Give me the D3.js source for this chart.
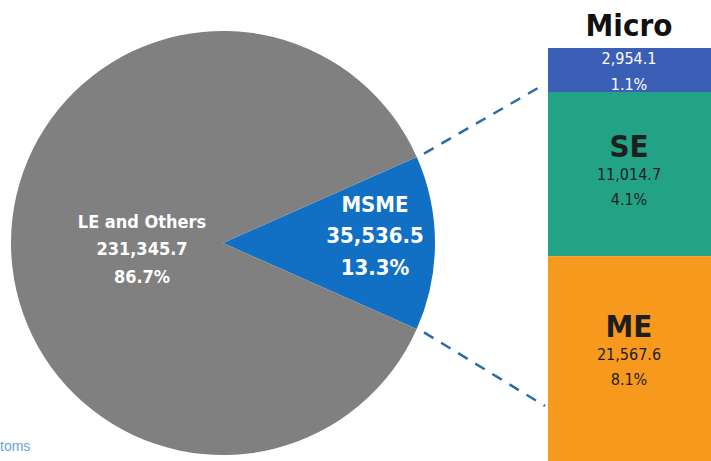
<!DOCTYPE html>
<html>
<head>
<meta charset="utf-8">
<script src="https://cdn.jsdelivr.net/npm/d3@7"></script>
<style>
  html, body { margin: 0; padding: 0; background: #fff; }
  svg { display: block; }
</style>
</head>
<body>
<svg id="chart" width="711" height="461"></svg>
<script>
// Enterprise segments (value and share of total)
const pieLabels = ["MSME", "LE and Others"];
const pieValues = [35536.5, 231345.7];
const pieShares = [13.3, 86.7];

// Breakdown of MSME into size classes
const barLabels = ["Micro", "SE", "ME"];
const barValues = [2954.1, 11014.7, 21567.6];
const barShares = [1.1, 4.1, 8.1];

const pieColors = ["#1170c4", "#808080"];
const barColors = ["#3b5fb6", "#22a386", "#f7991d"];
const barText = ["#ffffff", "#1e1e1e", "#1e1e1e"];

const svg = d3.select("#chart");
const fmt = d3.format(",.1f");

// ---- pie ----
const cx = 223, cy = 243, R = 212;
const total = d3.sum(pieValues);
const msmeAngle = 2 * Math.PI * pieValues[0] / total;
const start = Math.PI / 2 - msmeAngle / 2;

const pie = d3.pie().sort(null).startAngle(start).endAngle(start + 2 * Math.PI);
const arcs = pie(pieValues);
const arc = d3.arc().innerRadius(0).outerRadius(R);

const gPie = svg.append("g").attr("transform", `translate(${cx},${cy})`);
gPie.selectAll("path").data(arcs).join("path")
  .attr("d", arc)
  .attr("fill", (d, i) => pieColors[i]);

// label placement for each slice: radius, vertical shift, font size, line gap
const labelCfg = [
  { r: 152, dy: 0, size: 22, gap: 31.5 },
  { r: 81, dy: 12, size: 18, gap: 27.5 }
];
arcs.forEach((d, i) => {
  const c = labelCfg[i];
  const mid = (d.startAngle + d.endAngle) / 2;
  const lx = Math.sin(mid) * c.r;
  const ly = -Math.cos(mid) * c.r + c.dy;
  const t = gPie.append("text")
    .attr("text-anchor", "middle")
    .attr("fill", "#ffffff")
    .attr("font-family", "'DejaVu Sans Condensed', 'DejaVu Sans', sans-serif")
    .attr("font-weight", "bold")
    .attr("font-size", c.size);
  const lines = [pieLabels[i], fmt(pieValues[i]), pieShares[i].toFixed(1) + "%"];
  lines.forEach((txt, j) => {
    t.append("tspan")
      .attr("x", lx)
      .attr("y", ly + (j - 1) * c.gap)
      .text(txt);
  });
});

// ---- stacked bar ----
const barX = 548, barW = 180, barTop = 48;
const msmeTotal = d3.sum(barValues);
const y = d3.scaleLinear().domain([0, msmeTotal]).range([barTop, barTop + msmeTotal * 0.0149]);
const cum = d3.cumsum(barValues);
const segs = barValues.map((v, i) => ({ v, i, y0: y(cum[i] - v), y1: y(cum[i]) }));

svg.selectAll("rect.seg").data(segs).join("rect")
  .attr("class", "seg")
  .attr("x", barX)
  .attr("y", d => d.y0)
  .attr("width", barW)
  .attr("height", d => d.y1 - d.y0)
  .attr("fill", d => barColors[d.i]);

const tx = 629;
const font = "'DejaVu Sans Condensed', 'DejaVu Sans', sans-serif";

// Micro: title sits above the bar
svg.append("text").attr("x", tx).attr("y", 36)
  .attr("text-anchor", "middle").attr("font-family", font)
  .attr("font-weight", "bold").attr("font-size", 31).attr("fill", "#111")
  .text(barLabels[0]);
svg.append("text").attr("x", tx).attr("y", 64)
  .attr("text-anchor", "middle").attr("font-family", font)
  .attr("font-size", 16).attr("fill", barText[0])
  .text(fmt(barValues[0]));
svg.append("text").attr("x", tx).attr("y", 90)
  .attr("text-anchor", "middle").attr("font-family", font)
  .attr("font-size", 16).attr("fill", barText[0])
  .text(barShares[0].toFixed(1) + "%");

// SE and ME: title, value, share inside the segment
const innerLayout = [null, { top: 157 }, { top: 337 }];
[1, 2].forEach(i => {
  const base = innerLayout[i].top;
  svg.append("text").attr("x", tx).attr("y", base)
    .attr("text-anchor", "middle").attr("font-family", font)
    .attr("font-weight", "bold").attr("font-size", 31).attr("fill", barText[i])
    .text(barLabels[i]);
  svg.append("text").attr("x", tx).attr("y", base + 23)
    .attr("text-anchor", "middle").attr("font-family", font)
    .attr("font-size", 16).attr("fill", barText[i])
    .text(fmt(barValues[i]));
  svg.append("text").attr("x", tx).attr("y", base + 48)
    .attr("text-anchor", "middle").attr("font-family", font)
    .attr("font-size", 16).attr("fill", barText[i])
    .text(barShares[i].toFixed(1) + "%");
});

// ---- dashed connectors from the MSME wedge to the bar ----
const msme = arcs[0];
const edgePt = (a, r) => [cx + Math.sin(a) * r, cy - Math.cos(a) * r];
const pTop = edgePt(msme.startAngle, R + 8);
const pBot = edgePt(msme.endAngle, R + 8);
const connectors = [
  [pTop, [barX - 3, 84]],
  [pBot, [barX - 3, 406]]
];
svg.selectAll("line.conn").data(connectors).join("line")
  .attr("class", "conn")
  .attr("x1", d => d[0][0]).attr("y1", d => d[0][1])
  .attr("x2", d => d[1][0]).attr("y2", d => d[1][1])
  .attr("stroke", "#2b6ba6")
  .attr("stroke-width", 2.5)
  .attr("stroke-dasharray", "11 9");

// source note fragment at the lower left
svg.append("text").attr("x", 0).attr("y", 451)
  .attr("font-family", "'Liberation Sans', Arial, sans-serif")
  .attr("font-size", 14).attr("fill", "#6aa4d8")
  .text("toms");
</script>
</body>
</html>
